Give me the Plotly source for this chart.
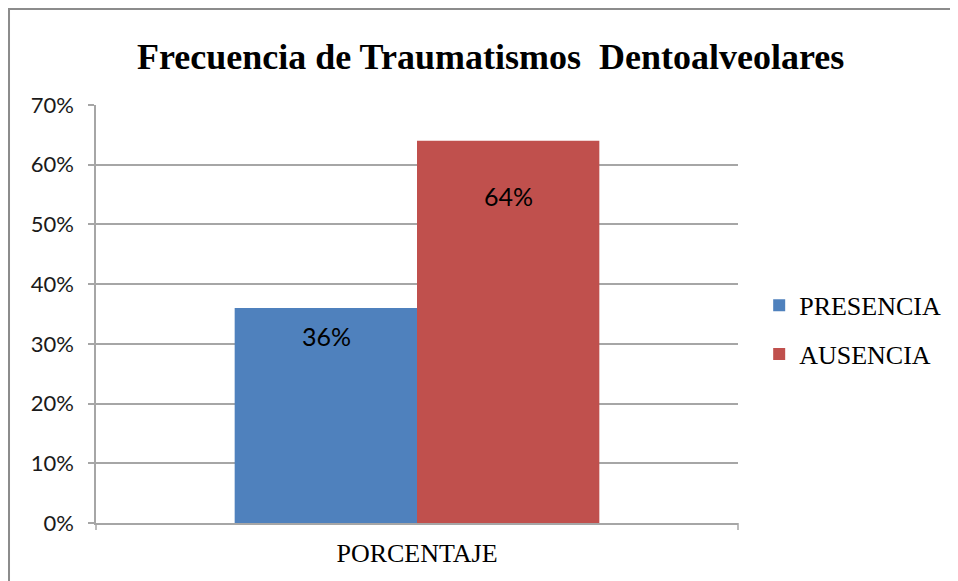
import plotly.graph_objects as go

categories = ["PORCENTAJE"]
series_names = ["PRESENCIA", "AUSENCIA"]
presencia = [0.36]
ausencia = [0.64]
series_values = [presencia, ausencia]
colors = ["#4F81BD", "#C0504D"]
label_yshift = [-28, -55]
label_xshift = [-91, 91]
y_tick_vals = [0, 0.1, 0.2, 0.3, 0.4, 0.5, 0.6, 0.7]
y_tick_text = ["0%", "10%", "20%", "30%", "40%", "50%", "60%", "70%"]

fig = go.Figure()
for name, vals, col in zip(series_names, series_values, colors):
    fig.add_trace(go.Bar(x=categories, y=vals, name=name, marker_color=col,
                         marker_line_width=0, legendgroup=name))

for i, vals in enumerate(series_values):
    for c, v in zip(categories, vals):
        fig.add_annotation(x=c, y=v, text=f"{round(v*100)}%", showarrow=False,
                           xref="x", yref="y", yanchor="middle",
                           xshift=label_xshift[i], yshift=label_yshift[i],
                           font=dict(family="Lato", size=25, color="#000000"))

grid = "#A6A6A6"
fig.update_layout(
    width=950, height=573,
    margin=dict(l=88, r=208, t=97, b=58),
    paper_bgcolor="white", plot_bgcolor="white",
    title=dict(text="<b>Frecuencia de Traumatismos&nbsp;&nbsp;Dentoalveolares</b>",
               font=dict(family="Liberation Serif", size=36, color="#000000"),
               x=0.508, xanchor="center", y=0.915, yanchor="middle"),
    barmode="group", bargap=0.432, bargroupgap=0,
    showlegend=True,
    legend=dict(x=1.033, xanchor="left", y=0.462, yanchor="middle",
                font=dict(family="Liberation Serif", size=26, color="#000000"),
                tracegroupgap=12, bgcolor="rgba(0,0,0,0)"),
    xaxis=dict(showline=True, linecolor=grid, linewidth=1.5, ticks="",
               tickfont=dict(family="Liberation Serif", size=26, color="#000000"),
               ticklabelstandoff=6),
    yaxis=dict(range=[0, 0.7], tickvals=y_tick_vals, ticktext=y_tick_text,
               showgrid=True, gridcolor=grid, gridwidth=1.5,
               showline=True, linecolor=grid, linewidth=1.5,
               ticks="outside", ticklen=6, tickcolor=grid, tickwidth=1.5,
               zeroline=False,
               tickfont=dict(family="Lato", size=22, color="#1a1a1a"),
               ticklabelstandoff=10),
)

# chart border and end ticks
fig.add_shape(type="rect", xref="paper", yref="paper", x0=-0.1355, x1=2, y0=-1, y1=1.2297,
              line=dict(color="#8C8C8C", width=2), fillcolor="rgba(0,0,0,0)", layer="below")
for xx in [0, 1]:
    fig.add_shape(type="line", xref="paper", yref="paper", x0=xx, x1=xx, y0=0, y1=-0.017,
                  line=dict(color=grid, width=1.5))

fig.write_html("out.html")
